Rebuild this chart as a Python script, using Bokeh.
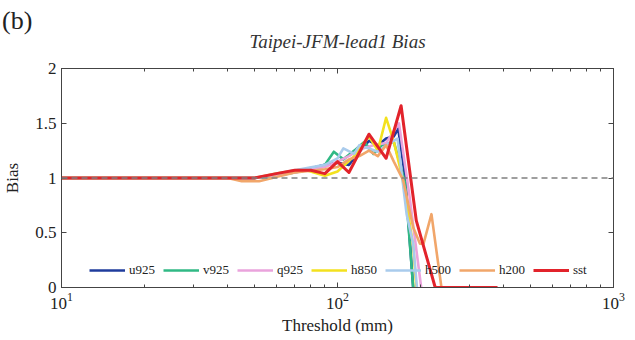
from bokeh.plotting import figure
from bokeh.layouts import column
from bokeh.models import (Span, Legend, LegendItem, LogAxis, LinearAxis, FixedTicker, Div,
                          CustomJSTickFormatter)
from bokeh.embed import file_html
from bokeh.resources import INLINE

# ---- data (threshold in mm, bias) ----
series_names = ["u925", "v925", "q925", "h850", "h500", "h200", "sst"]
series_colors = ["#1f3c9c", "#30b985", "#eaa3dc", "#f3e11e", "#a9cbec", "#f1a66a", "#e2232b"]

u925_x = [10, 50, 60, 70, 80, 90, 100, 110, 120, 130, 140, 150, 160, 166, 176, 188]
u925_y = [1.0, 1.0, 1.03, 1.06, 1.09, 1.12, 1.14, 1.12, 1.24, 1.34, 1.30, 1.36, 1.38, 1.45, 1.0, 0.0]

v925_x = [10, 50, 60, 70, 80, 90, 97, 105, 115, 125, 135, 145, 160, 176, 188]
v925_y = [1.0, 1.0, 1.02, 1.05, 1.08, 1.12, 1.24, 1.17, 1.25, 1.33, 1.22, 1.30, 1.33, 0.95, 0.0]

q925_x = [10, 50, 70, 90, 100, 110, 120, 135, 150, 167, 182, 201]
q925_y = [1.0, 1.0, 1.05, 1.10, 1.15, 1.20, 1.26, 1.30, 1.32, 1.50, 0.85, 0.0]

h850_x = [10, 50, 60, 75, 90, 100, 115, 130, 140, 150, 160, 172, 188, 193]
h850_y = [1.0, 1.0, 1.04, 1.08, 1.02, 1.06, 1.20, 1.38, 1.25, 1.55, 1.33, 1.0, 0.38, 0.0]

h500_x = [10, 50, 70, 90, 100, 105, 115, 120, 130, 140, 150, 165, 178, 188, 194]
h500_y = [1.0, 1.0, 1.07, 1.12, 1.18, 1.27, 1.22, 1.30, 1.27, 1.24, 1.30, 1.36, 0.67, 0.40, 0.0]

h200_x = [10, 40, 45, 52, 60, 70, 90, 100, 110, 120, 130, 140, 150, 160, 173, 188, 199, 205, 219, 238]
h200_y = [1.0, 1.0, 0.97, 0.97, 1.01, 1.05, 1.08, 1.10, 1.17, 1.20, 1.25, 1.20, 1.30, 1.15, 0.98, 0.55, 0.40, 0.40, 0.67, 0.0]

sst_x = [10, 50, 60, 70, 80, 90, 100, 110, 130, 150, 170, 193, 226, 380]
sst_y = [1.0, 1.0, 1.04, 1.07, 1.07, 1.04, 1.15, 1.05, 1.40, 1.18, 1.66, 0.61, 0.0, 0.0]

xs = [u925_x, v925_x, q925_x, h850_x, h500_x, h200_x, sst_x]
ys = [u925_y, v925_y, q925_y, h850_y, h500_y, h200_y, sst_y]

x_major = [10, 100, 1000]
x_minor = [20, 30, 40, 50, 60, 70, 80, 90, 200, 300, 400, 500, 600, 700, 800, 900]
y_ticks = [0, 0.5, 1, 1.5, 2]
y_tick_labels = ["0", "0.5", "1", "1.5", "2"]
ref_bias = 1.0
title_text = "Taipei-JFM-lead1 Bias"
panel_tag = "(b)"

FONT = "Liberation Serif"
AXC = "#444444"

p = figure(x_axis_type="log", x_range=(10, 1000), y_range=(0, 2),
           frame_width=552, frame_height=219,
           min_border_left=50, min_border_right=17, min_border_top=60, min_border_bottom=0,
           output_backend="svg", toolbar_location=None, title=title_text)

p.title.text_font = FONT
p.title.text_font_size = "19px"
p.title.text_font_style = "italic"
p.title.text_color = "#333333"
p.title.align = "center"
p.title.standoff = 34

p.grid.visible = False
p.outline_line_color = AXC
p.background_fill_color = "white"
p.border_fill_color = None

blank = CustomJSTickFormatter(code="return ''")

def style_axis(ax, labels=True):
    ax.axis_line_color = AXC
    ax.major_tick_line_color = AXC
    ax.minor_tick_line_color = AXC
    ax.major_tick_in = 5
    ax.major_tick_out = 0
    ax.minor_tick_in = 3
    ax.minor_tick_out = 0
    ax.major_label_text_font = FONT
    ax.major_label_text_font_size = "17px"
    ax.major_label_text_color = "#222222"
    ax.major_label_standoff = 5 if labels else 0
    ax.axis_label_text_font = FONT
    ax.axis_label_text_font_size = "17px"
    ax.axis_label_text_font_style = "normal"
    ax.axis_label_text_color = "#222222"
    if not labels:
        ax.formatter = blank

xa = p.xaxis[0]
xa.ticker = FixedTicker(ticks=x_major, minor_ticks=x_minor)
xa.axis_label = "Threshold (mm)"
style_axis(xa)
xa.axis_label_standoff = 4

ya = p.yaxis[0]
ya.ticker = FixedTicker(ticks=y_ticks)
ya.major_label_overrides = dict(zip(y_ticks, y_tick_labels))
ya.axis_label = "Bias"
style_axis(ya)
ya.minor_tick_in = 0
ya.axis_label_standoff = 10

top = LogAxis(ticker=FixedTicker(ticks=x_major, minor_ticks=x_minor))
style_axis(top, labels=False)
p.add_layout(top, "above")

right = LinearAxis(ticker=FixedTicker(ticks=y_ticks))
style_axis(right, labels=False)
right.minor_tick_in = 0
p.add_layout(right, "right")

items = []
for name, col, x, y in zip(series_names, series_colors, xs, ys):
    r = p.line(x, y, line_color=col, line_width=3 if name == "sst" else 2.6, line_join="round")
    items.append(LegendItem(label=name, renderers=[r]))

p.add_layout(Span(location=ref_bias, dimension="width", line_color="#808080",
                  line_width=1.3, line_dash="6 4"))

legend = Legend(items=items, orientation="horizontal", location=(28, 7),
                glyph_width=36, glyph_height=20, label_standoff=4, spacing=8,
                padding=0, margin=0, border_line_color=None, background_fill_alpha=0,
                label_text_font=FONT, label_text_font_size="13px", label_text_color="#222222")
p.add_layout(legend, "center")

tag = Div(text=panel_tag, width=40, height=26, margin=(8, 0, -26, 2),
          styles={"font-family": FONT, "font-size": "26px", "line-height": "26px",
                  "color": "#222222"})

layout = column(tag, p, spacing=0)
open("out.html", "w").write(file_html(layout, INLINE))
